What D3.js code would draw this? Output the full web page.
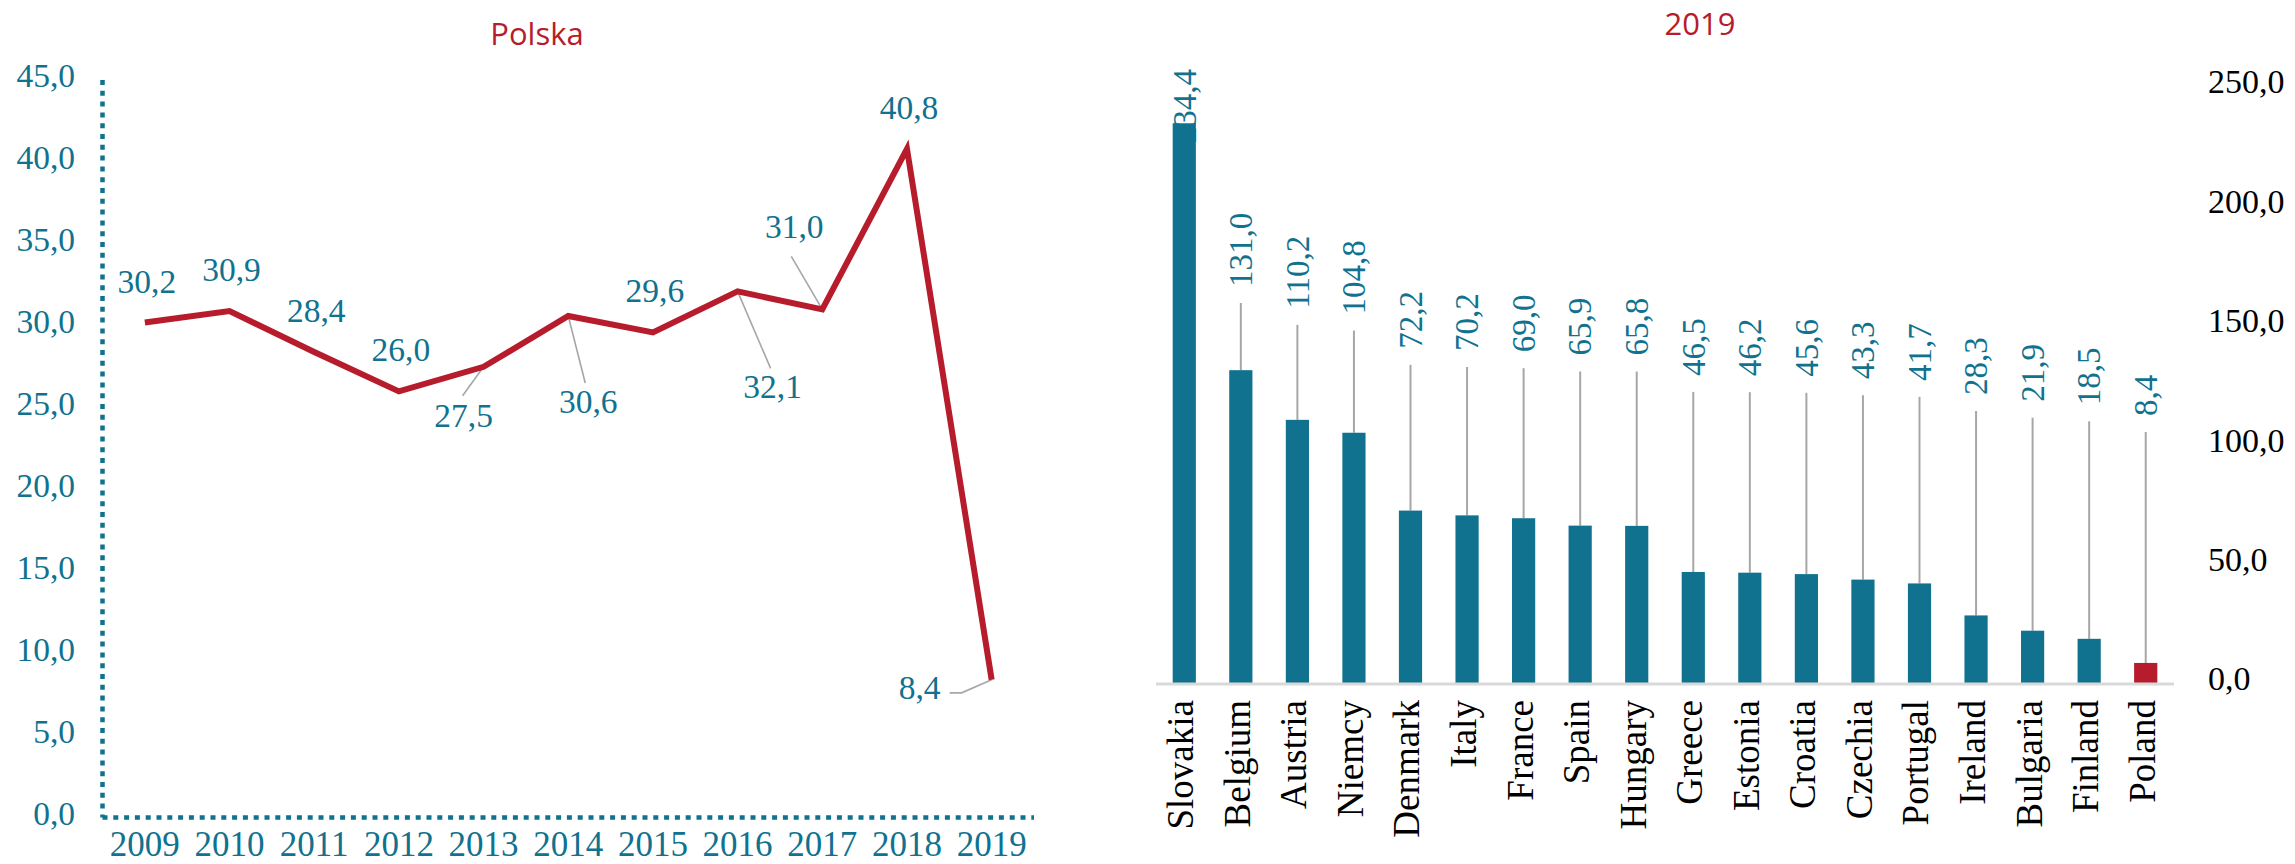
<!DOCTYPE html>
<html>
<head>
<meta charset="utf-8">
<script src="https://cdn.jsdelivr.net/npm/d3@7"></script>
<style>
  html, body { margin: 0; padding: 0; background: #ffffff; }
  svg { display: block; }
</style>
</head>
<body>
<svg id="chart" width="2295" height="864"></svg>
<script>
// ---- data ----
const years = ["2009", "2010", "2011", "2012", "2013", "2014", "2015", "2016", "2017", "2018", "2019"];
const polskaValues = [30.2, 30.9, 28.4, 26.0, 27.5, 30.6, 29.6, 32.1, 31.0, 40.8, 8.4];
const leftTicks = [0, 5, 10, 15, 20, 25, 30, 35, 40, 45];

const countries = ["Slovakia", "Belgium", "Austria", "Niemcy", "Denmark", "Italy", "France", "Spain",
  "Hungary", "Greece", "Estonia", "Croatia", "Czechia", "Portugal", "Ireland", "Bulgaria", "Finland", "Poland"];
const values2019 = [234.4, 131.0, 110.2, 104.8, 72.2, 70.2, 69.0, 65.9, 65.8, 46.5, 46.2, 45.6, 43.3, 41.7, 28.3, 21.9, 18.5, 8.4];
const highlightCountry = "Poland";
const rightTicks = [0, 50, 100, 150, 200, 250];

// ---- styles ----
const TEAL = "#10728f";
const RED = "#b71c2c";
const GREY = "#a6a6a6";
const SERIF = "'Liberation Serif', 'Times New Roman', serif";
const SANS = "'Open Sans', 'Noto Sans', sans-serif";
const fmt = v => d3.format(".1f")(v).replace(".", ",");

const svg = d3.select("#chart");

// =============== Left: line chart "Polska" ===============
const xL = d3.scaleBand().domain(years).range([102.5, 1034]).padding(0);
const yL = d3.scaleLinear().domain([0, 45]).range([817.5, 80]);
const cx = y => xL(y) + xL.bandwidth() / 2;

svg.append("text")
  .attr("x", 537).attr("y", 45)
  .attr("text-anchor", "middle")
  .style("font-family", SANS).style("font-size", "31px")
  .attr("fill", RED)
  .text("Polska");

// dotted axes
const axisL = svg.append("g");
axisL.append("line")
  .attr("x1", 102.5).attr("x2", 102.5)
  .attr("y1", yL(45)).attr("y2", yL(0))
  .attr("stroke", TEAL).attr("stroke-width", 4.5).attr("stroke-dasharray", "5,5.8");
axisL.append("line")
  .attr("x1", 102.5).attr("x2", xL.range()[1])
  .attr("y1", yL(0)).attr("y2", yL(0))
  .attr("stroke", TEAL).attr("stroke-width", 4.5).attr("stroke-dasharray", "5,5.8");

// y tick labels
svg.append("g").selectAll("text").data(leftTicks).join("text")
  .attr("x", 75).attr("y", d => yL(d))
  .attr("dy", "0.22em")
  .attr("text-anchor", "end")
  .style("font-family", SERIF).style("font-size", "33.5px")
  .attr("fill", TEAL)
  .text(d => fmt(d));

// x tick labels
svg.append("g").selectAll("text").data(years).join("text")
  .attr("x", d => cx(d)).attr("y", 856)
  .attr("text-anchor", "middle")
  .style("font-family", SERIF).style("font-size", "35px")
  .attr("fill", TEAL)
  .text(d => d);

// label placement: offset of label (centre x, baseline y) from its point, and optional leader path
const defaultPlacement = { dx: 2, dy: -30 };
const placement = {
  "2013": { dx: -20, dy: 60, leader: [[-21, 29]] },
  "2014": { dx: 20, dy: 97, leader: [[17, 67]] },
  "2016": { dx: 35, dy: 107, leader: [[33, 77]] },
  "2017": { dx: -28, dy: -71, leader: [[-31, -53]] },
  "2019": { dx: -72, dy: 19, leader: [[-42, 13], [-30, 13]] }
};

const pts = years.map((y, i) => ({ year: y, value: polskaValues[i], x: cx(y), y: yL(polskaValues[i]) }));

// leader lines
const leaders = svg.append("g");
pts.forEach(p => {
  const pl = placement[p.year];
  if (pl && pl.leader) {
    const path = pl.leader.map(o => [p.x + o[0], p.y + o[1]]).concat([[p.x, p.y]]);
    leaders.append("path")
      .attr("d", d3.line()(path))
      .attr("fill", "none").attr("stroke", GREY).attr("stroke-width", 1.6);
  }
});

// the line
svg.append("path")
  .datum(pts)
  .attr("d", d3.line().x(d => d.x).y(d => d.y))
  .attr("fill", "none")
  .attr("stroke", RED).attr("stroke-width", 6)
  .attr("stroke-linejoin", "miter");

// value labels
svg.append("g").selectAll("text").data(pts).join("text")
  .attr("x", d => d.x + (placement[d.year] || defaultPlacement).dx)
  .attr("y", d => d.y + (placement[d.year] || defaultPlacement).dy)
  .attr("text-anchor", "middle")
  .style("font-family", SERIF).style("font-size", "33.5px")
  .attr("fill", TEAL)
  .text(d => fmt(d.value));

// =============== Right: bar chart "2019" ===============
const xR = d3.scaleBand().domain(countries).range([1156, 2174]).paddingInner(0.59).paddingOuter(0.295);
const yR = d3.scaleLinear().domain([0, 250]).range([683, 86]);
// vertical position where each value label begins (labels fan out above the bars)
const labelY = d3.scaleLinear().domain([0, 250]).range([440.8, 177.8]);
const bx = c => xR(c) + xR.bandwidth() / 2;

svg.append("text")
  .attr("x", 1700).attr("y", 35)
  .attr("text-anchor", "middle")
  .style("font-family", SANS).style("font-size", "31px")
  .attr("fill", RED)
  .text("2019");

const bars = countries.map((c, i) => ({ country: c, value: values2019[i] }));

// leader lines and rotated value labels
const lblG = svg.append("g");
bars.forEach(b => {
  const x = bx(b.country);
  const top = yR(b.value);
  const lead = labelY(b.value);
  let start;
  if (lead > top - 10) {
    // label sits directly on the bar
    start = top + 20;
  } else {
    start = lead - 16;
    lblG.append("line")
      .attr("x1", x).attr("x2", x)
      .attr("y1", lead).attr("y2", top)
      .attr("stroke", GREY).attr("stroke-width", 2);
  }
  lblG.append("text")
    .attr("transform", `translate(${x},${start}) rotate(-90)`)
    .attr("dy", "0.34em")
    .attr("text-anchor", "start")
    .style("font-family", SERIF).style("font-size", "33px")
    .attr("fill", TEAL)
    .text(fmt(b.value));
});

// bars
svg.append("g").selectAll("rect").data(bars).join("rect")
  .attr("x", d => xR(d.country))
  .attr("width", xR.bandwidth())
  .attr("y", d => yR(d.value))
  .attr("height", d => yR(0) - yR(d.value))
  .attr("fill", d => d.country === highlightCountry ? RED : TEAL);

// baseline
svg.append("line")
  .attr("x1", 1156).attr("x2", 2174)
  .attr("y1", yR(0) + 1).attr("y2", yR(0) + 1)
  .attr("stroke", "#d9d9d9").attr("stroke-width", 3);

// category labels
svg.append("g").selectAll("text").data(countries).join("text")
  .attr("transform", d => `translate(${bx(d)},700) rotate(-90)`)
  .attr("dy", "0.24em")
  .attr("text-anchor", "end")
  .style("font-family", SERIF).style("font-size", "37px")
  .attr("fill", "#000000")
  .text(d => d);

// right-hand value axis labels
svg.append("g").selectAll("text").data(rightTicks).join("text")
  .attr("x", 2208).attr("y", d => yR(d))
  .attr("dy", "0.22em")
  .attr("text-anchor", "start")
  .style("font-family", SERIF).style("font-size", "34px")
  .attr("fill", "#000000")
  .text(d => fmt(d));
</script>
</body>
</html>
